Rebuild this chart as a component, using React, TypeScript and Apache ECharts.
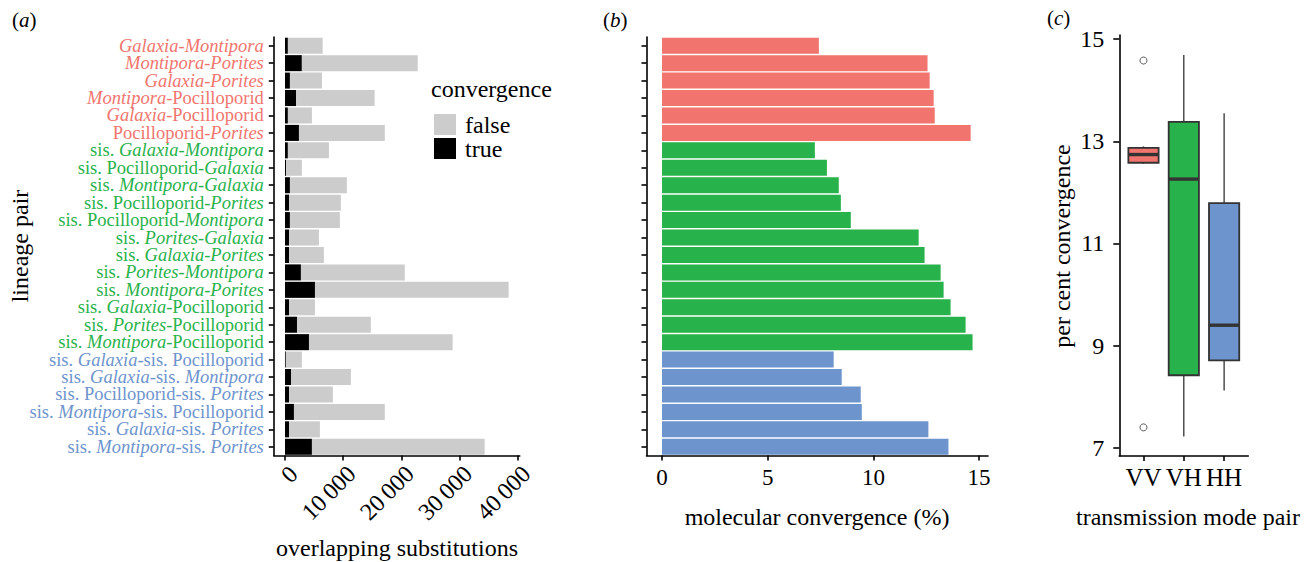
import React, { useEffect, useRef } from 'react';
import * as echarts from 'echarts';

const FONT = 'Liberation Serif, Times New Roman, serif';

// Lineage pairs (underscores mark italic parts)
const pairLabels = [
  '_Galaxia_-_Montipora_',
  '_Montipora_-_Porites_',
  '_Galaxia_-_Porites_',
  '_Montipora_-Pocilloporid',
  '_Galaxia_-Pocilloporid',
  'Pocilloporid-_Porites_',
  'sis. _Galaxia_-_Montipora_',
  'sis. Pocilloporid-_Galaxia_',
  'sis. _Montipora_-_Galaxia_',
  'sis. Pocilloporid-_Porites_',
  'sis. Pocilloporid-_Montipora_',
  'sis. _Porites_-_Galaxia_',
  'sis. _Galaxia_-_Porites_',
  'sis. _Porites_-_Montipora_',
  'sis. _Montipora_-_Porites_',
  'sis. _Galaxia_-Pocilloporid',
  'sis. _Porites_-Pocilloporid',
  'sis. _Montipora_-Pocilloporid',
  'sis. _Galaxia_-sis. Pocilloporid',
  'sis. _Galaxia_-sis. _Montipora_',
  'sis. Pocilloporid-sis. _Porites_',
  'sis. _Montipora_-sis. Pocilloporid',
  'sis. _Galaxia_-sis. _Porites_',
  'sis. _Montipora_-sis. _Porites_',
];
// 0 = VV (red), 1 = VH (green), 2 = HH (blue)
const pairGroup = [0, 0, 0, 0, 0, 0, 1, 1, 1, 1, 1, 1, 1, 1, 1, 1, 1, 1, 2, 2, 2, 2, 2, 2];
const groupColors = ['#F1756E', '#28B24B', '#6E94CD'];

// Panel (a): overlapping substitutions
const trueSubs = [500, 2900, 850, 1900, 500, 2400, 500, 200, 850, 700, 850, 700, 700, 2740, 5150, 700, 2060, 4120, 150, 1030, 700, 1540, 700, 4630];
const falseSubs = [5970, 19900, 5500, 13500, 4130, 14750, 7050, 2700, 9780, 8900, 8580, 5130, 5990, 17840, 33270, 4450, 12690, 24680, 2750, 10290, 7530, 15610, 5300, 29670];
const subTicks = [0, 10000, 20000, 30000, 40000];

// Panel (b): molecular convergence (%)
const convergencePct = [7.42, 12.56, 12.66, 12.85, 12.9, 14.6, 7.23, 7.8, 8.36, 8.46, 8.93, 12.14, 12.42, 13.18, 13.32, 13.65, 14.36, 14.69, 8.12, 8.5, 9.4, 9.45, 12.6, 13.55];
const pctTicks = [0, 5, 10, 15];

// Panel (c): box plot stats
const boxCats = ['VV', 'VH', 'HH'];
const boxLow = [12.56, 7.22, 8.12];
const boxQ1 = [12.58, 8.42, 8.71];
const boxMedian = [12.74, 12.26, 9.4];
const boxQ3 = [12.87, 13.38, 11.79];
const boxHigh = [12.9, 14.69, 13.55];
const outlierCat = [1, 1];
const outlierValue = [14.58, 7.4];
const boxTicks = [7, 9, 11, 13, 15];

function richLabel(value: string) {
  const idx = pairLabels.indexOf(value);
  const g = pairGroup[idx];
  return value
    .split('_')
    .map((p, k) => (p ? `{${k % 2 ? 'i' : 'r'}${g}|${p}}` : ''))
    .join('');
}

const labelRich: Record<string, any> = {};
groupColors.forEach((c, g) => {
  labelRich['r' + g] = { color: c, fontSize: 18.5, fontFamily: FONT };
  labelRich['i' + g] = { color: c, fontSize: 18.5, fontFamily: FONT, fontStyle: 'italic' };
});

const axisLineStyle = { color: '#000', width: 1.6 };

function fmtThousands(v: number) {
  if (v === 0) return '0';
  const s = String(v);
  return s.slice(0, s.length - 3) + '\u2009' + s.slice(s.length - 3);
}

const textRich = {
  t: { fontSize: 24, fontFamily: FONT, color: '#000' },
  n: { fontSize: 21, fontFamily: FONT, color: '#000' },
  i: { fontSize: 21, fontFamily: FONT, color: '#000', fontStyle: 'italic' },
};

function txt(text: string, x: number, y: number, opts: any = {}) {
  return {
    type: 'text',
    x,
    y,
    rotation: opts.rotation || 0,
    silent: true,
    style: {
      text,
      x: 0,
      y: 0,
      fill: '#000',
      fontSize: 24,
      fontFamily: FONT,
      align: opts.align || 'center',
      verticalAlign: 'middle',
      rich: textRich,
    },
  };
}

export default function App() {
  const ref = useRef<HTMLDivElement>(null);
  useEffect(() => {
    const chart = echarts.init(ref.current!, null, { renderer: 'svg' });
    const option: any = {
      animation: false,
      backgroundColor: '#fff',
      textStyle: { fontFamily: FONT },
      legend: {
        show: true,
        data: ['false', 'true'],
        left: 434,
        top: 112.5,
        orient: 'vertical',
        itemWidth: 22,
        itemHeight: 21,
        itemGap: 0,
        icon: 'rect',
        padding: 0,
        selectedMode: false,
        formatter: (name: string) => `{t|${name}}`,
        textStyle: {
          fontSize: 24,
          fontFamily: FONT,
          color: '#000',
          padding: [0, 0, 0, 4],
          rich: { t: { fontSize: 24, fontFamily: FONT, color: '#000' } },
        },
      },
      grid: [
        { left: 273.8, top: 37, width: 246, height: 418.5, containLabel: false, outerBoundsMode: 'none' },
        { left: 646.5, top: 37, width: 341.5, height: 418.5, containLabel: false, outerBoundsMode: 'none' },
        { left: 1119.3, top: 35, width: 129, height: 421, containLabel: false, outerBoundsMode: 'none' },
      ],
      xAxis: [
        {
          gridIndex: 0,
          type: 'value',
          min: -1921,
          max: 40341,
          splitLine: { show: false },
          axisLine: { show: true, onZero: false, lineStyle: axisLineStyle },
          axisTick: { show: true, customValues: subTicks, length: 5, lineStyle: axisLineStyle },
          axisLabel: {
            customValues: subTicks,
            rotate: 45,
            align: 'right',
            verticalAlign: 'top',
            margin: 6,
            fontSize: 24,
            fontFamily: FONT,
            color: '#000',
            formatter: (v: number) => fmtThousands(v),
          },
        },
        {
          gridIndex: 1,
          type: 'value',
          min: -0.734,
          max: 15.42,
          splitLine: { show: false },
          axisLine: { show: true, onZero: false, lineStyle: axisLineStyle },
          axisTick: { show: true, customValues: pctTicks, length: 5, lineStyle: axisLineStyle },
          axisLabel: { customValues: pctTicks, margin: 10, fontSize: 23, fontFamily: FONT, color: '#000' },
        },
        {
          gridIndex: 2,
          type: 'value',
          min: 0.4,
          max: 3.6,
          splitLine: { show: false },
          axisLine: { show: true, onZero: false, lineStyle: axisLineStyle },
          axisTick: { show: true, customValues: [1, 2, 3], length: 5, lineStyle: axisLineStyle },
          axisLabel: {
            customValues: [1, 2, 3],
            margin: 9,
            fontSize: 25,
            fontFamily: FONT,
            color: '#000',
            formatter: (v: number) => boxCats[Math.round(v) - 1],
          },
        },
      ],
      yAxis: [
        {
          gridIndex: 0,
          type: 'category',
          inverse: true,
          data: pairLabels,
          splitLine: { show: false },
          axisLine: { show: true, onZero: false, lineStyle: axisLineStyle },
          axisTick: { show: true, alignWithLabel: true, length: 5, lineStyle: axisLineStyle },
          axisLabel: { margin: 10, interval: 0, formatter: (v: string) => richLabel(v), rich: labelRich },
        },
        {
          gridIndex: 1,
          type: 'category',
          inverse: true,
          data: pairLabels,
          splitLine: { show: false },
          axisLine: { show: true, onZero: false, lineStyle: axisLineStyle },
          axisTick: { show: true, alignWithLabel: true, interval: 0, length: 5, lineStyle: axisLineStyle },
          axisLabel: { show: false },
        },
        {
          gridIndex: 2,
          type: 'value',
          min: 6.84,
          max: 15.08,
          splitLine: { show: false },
          axisLine: { show: true, onZero: false, lineStyle: axisLineStyle },
          axisTick: { show: true, customValues: boxTicks, length: 6, lineStyle: axisLineStyle },
          axisLabel: { customValues: boxTicks, margin: 15, fontSize: 24, fontFamily: FONT, color: '#000' },
        },
      ],
      series: [
        {
          name: 'true',
          type: 'bar',
          xAxisIndex: 0,
          yAxisIndex: 0,
          stack: 'subs',
          barWidth: '92%',
          data: trueSubs,
          itemStyle: { color: '#000' },
        },
        {
          name: 'false',
          type: 'bar',
          xAxisIndex: 0,
          yAxisIndex: 0,
          stack: 'subs',
          barWidth: '92%',
          data: falseSubs,
          itemStyle: { color: '#CCCCCC' },
        },
        {
          name: 'pct',
          type: 'bar',
          xAxisIndex: 1,
          yAxisIndex: 1,
          barWidth: '92%',
          data: convergencePct.map((v, i) => ({ value: v, itemStyle: { color: groupColors[pairGroup[i]] } })),
        },
        {
          name: 'box',
          type: 'custom',
          xAxisIndex: 2,
          yAxisIndex: 2,
          encode: { x: 0, y: [1, 2, 3, 4, 5] },
          data: boxCats.map((_, i) => [i + 1, boxLow[i], boxQ1[i], boxMedian[i], boxQ3[i], boxHigh[i]]),
          renderItem: (params: any, api: any) => {
            const x = api.value(0);
            const lo = api.coord([x, api.value(1)]);
            const q1 = api.coord([x, api.value(2)]);
            const md = api.coord([x, api.value(3)]);
            const q3 = api.coord([x, api.value(4)]);
            const hi = api.coord([x, api.value(5)]);
            const w = api.size([0.75, 0])[0];
            const color = groupColors[params.dataIndex];
            return {
              type: 'group',
              children: [
                {
                  type: 'line',
                  shape: { x1: lo[0], y1: lo[1], x2: hi[0], y2: hi[1] },
                  style: { stroke: '#333', lineWidth: 1.3 },
                },
                {
                  type: 'rect',
                  shape: { x: q3[0] - w / 2, y: q3[1], width: w, height: q1[1] - q3[1] },
                  style: { fill: color, stroke: '#333', lineWidth: 1.8 },
                },
                {
                  type: 'line',
                  shape: { x1: md[0] - w / 2, y1: md[1], x2: md[0] + w / 2, y2: md[1] },
                  style: { stroke: '#333', lineWidth: 3.4 },
                },
              ],
            };
          },
        },
        {
          name: 'outliers',
          type: 'scatter',
          xAxisIndex: 2,
          yAxisIndex: 2,
          symbol: 'circle',
          symbolSize: 7,
          data: outlierValue.map((v, i) => [outlierCat[i], v]),
          itemStyle: { color: '#fff', borderColor: '#333', borderWidth: 1 },
        },
      ],
      graphic: [
        txt('{n|(}{i|a}{n|)}', 12, 20, { align: 'left' }),
        txt('{n|(}{i|b}{n|)}', 603, 20, { align: 'left' }),
        txt('{n|(}{i|c}{n|)}', 1047, 18, { align: 'left' }),
        txt('{t|lineage pair}', 20, 246, { rotation: Math.PI / 2 }),
        txt('{t|overlapping substitutions}', 397, 548),
        txt('{t|molecular convergence (%)}', 817, 517),
        txt('{t|per cent convergence}', 1062, 246, { rotation: Math.PI / 2 }),
        txt('{t|transmission mode pair}', 1188, 516.5),
        txt('{t|convergence}', 431, 89, { align: 'left' }),
      ],
    };
    chart.setOption(option);
    return () => chart.dispose();
  }, []);
  return <div ref={ref} style={{ position: 'fixed', left: 0, top: 0, width: 1309, height: 562 }} />;
}
